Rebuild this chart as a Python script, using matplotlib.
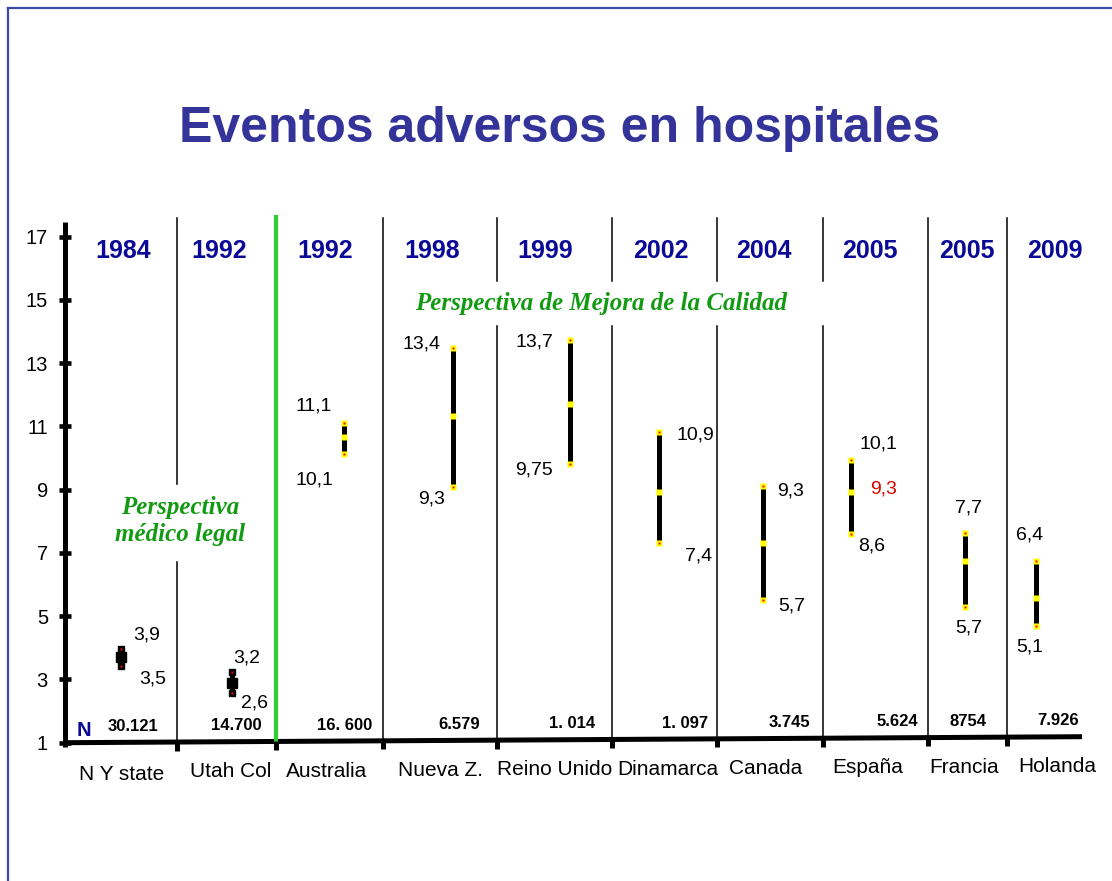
import matplotlib
matplotlib.use("Agg")
import matplotlib.pyplot as plt

plt.rcParams['font.family'] = ['Liberation Sans', 'DejaVu Sans']

# ---- data -------------------------------------------------------------
countries = ["N Y state", "Utah Col", "Australia", "Nueva Z.", "Reino Unido",
             "Dinamarca", "Canada", "España", "Francia", "Holanda"]
years = ["1984", "1992", "1992", "1998", "1999", "2002", "2004", "2005", "2005", "2009"]
n_sizes = ["30.121", "14.700", "16. 600", "6.579", "1. 014", "1. 097",
           "3.745", "5.624", "8754", "7.926"]

# interval ends and middle point, as drawn on the slide
low = [3.42, 2.57, 10.13, 9.09, 9.81, 7.31, 5.51, 7.60, 5.29, 4.69]
mid = [3.71, 2.89, 10.66, 11.33, 11.71, 8.93, 7.31, 8.93, 6.74, 5.57]
high = [3.96, 3.24, 11.11, 13.48, 13.73, 10.82, 9.12, 9.94, 7.63, 6.74]

# printed values next to each interval
hi_labels = ["3,9", "3,2", "11,1", "13,4", "13,7", "10,9", "9,3", "10,1", "7,7", "6,4"]
lo_labels = ["3,5", "2,6", "10,1", "9,3", "9,75", "7,4", "5,7", "8,6", "5,7", "5,1"]
spain_mid_label = "9,3"

# ---- layout (slide pixels) ---------------------------------------------
W, H = 1112, 881
X0, X1 = 65, 1082          # y axis / end of x axis
Y1_PX, PX_UNIT = 742.7, 31.63
YTOP = 17.62

x_pos = [121, 232, 344, 453, 570, 659, 763, 851, 965, 1036]
year_x = [123, 219, 325, 432, 545, 661, 764, 870, 967, 1055]
country_x = [122, 231, 327, 440, 555, 668, 766, 868, 964, 1057]
n_x = [133, 236, 345, 459, 572, 685, 789, 897, 968, 1058]
sep_x = [177, 276, 383, 497, 612, 717, 823, 928, 1007]
gap_seps = [497, 612, 717, 823]

hi_off = [(26, 14), (15, 14), (-30, 17), (-31, 4), (-36, -2), (36, -3),
          (28, -5), (27, 16), (4, 25), (-6, 26)]
lo_off = [(32, -13), (23, -10), (-30, -26), (-21, -12), (-36, -6), (40, -13),
          (29, -6), (21, -12), (4, -21), (-6, -21)]

BLUE = "#0a0a96"
TITLE_BLUE = "#333399"
GREEN_TXT = "#129a12"
GREEN_LINE = "#33cc33"


def axis_y(x):
    # the x axis on the slide is drawn slightly tilted
    return 1 + 0.19 * (x - X0) / (X1 - X0)


fig = plt.figure(figsize=(W / 100, H / 100), dpi=100)
ax = fig.add_axes([X0 / W, (H - Y1_PX) / H, (X1 - X0) / W,
                   (YTOP - 1) * PX_UNIT / H])
ax.set_xlim(X0, X1)
ax.set_ylim(1, YTOP)
for s in ax.spines.values():
    s.set_visible(False)
ax.set_xticks([])
ax.set_yticks(range(1, 18, 2))
ax.tick_params(axis='y', direction='inout', length=8.6, width=3.3, pad=8,
               labelsize=14.5, colors='black')

# slide frame
fig.add_artist(plt.Line2D([8 / W, 8 / W], [0, 1 - 8 / H], color="#3a4aa8", lw=1.6))
fig.add_artist(plt.Line2D([8 / W, 1], [1 - 8 / H, 1 - 8 / H], color="#3a4aa8", lw=1.6))

fig.text(560 / W, 1 - 129 / H, "Eventos adversos en hospitales", ha='center',
         va='center', fontsize=36, fontweight='bold', color=TITLE_BLUE)

# axes lines
ax.plot([X0, X0], [17.46, 0.86], color='black', lw=3.6, clip_on=False,
        solid_capstyle='butt')
ax.plot([X0, X1], [axis_y(X0), axis_y(X1)], color='black', lw=3.6,
        clip_on=False, solid_capstyle='butt')

# column separators
for sx in sep_x:
    yb = axis_y(sx)
    if sx == 276:
        ax.plot([sx, sx], [YTOP, yb], color=GREEN_LINE, lw=3, clip_on=False)
    elif sx == 177:
        ax.plot([sx, sx], [17.6, 9.18], color='black', lw=1.1, clip_on=False)
        ax.plot([sx, sx], [6.71, yb], color='black', lw=1.1, clip_on=False)
    elif sx in gap_seps:
        ax.plot([sx, sx], [17.6, 15.6], color='black', lw=1.1, clip_on=False)
        ax.plot([sx, sx], [14.17, yb], color='black', lw=1.1, clip_on=False)
    else:
        ax.plot([sx, sx], [17.6, yb], color='black', lw=1.1, clip_on=False)
    ax.plot([sx, sx], [yb, yb - 0.27], color='black', lw=3.6, clip_on=False,
            solid_capstyle='butt')

# intervals
for i, x in enumerate(x_pos):
    ax.vlines(x, low[i], high[i], color='black', lw=3.6)
    if i < 2:
        ax.plot([x, x], [low[i], high[i]], 's', ms=4.5, mfc='black', mec='black')
        ax.plot([x, x], [low[i], high[i]], 's', ms=1.8, mfc='red', mec='none')
        ax.plot(x, mid[i], 's', ms=7, mfc='black', mec='black')
    else:
        ax.plot([x, x], [low[i], high[i]], 's', ms=4.8, mfc='#ffff00', mec='none')
        ax.plot([x, x], [low[i], high[i]], 's', ms=1.8, mfc='red', mec='none')
        ax.plot(x, mid[i], 's', ms=4.8, mfc='#ffff00', mec='none')

    ax.annotate(hi_labels[i], (x, high[i]), xytext=hi_off[i],
                textcoords='offset pixels', ha='center', va='center', fontsize=14)
    ax.annotate(lo_labels[i], (x, low[i]), xytext=lo_off[i],
                textcoords='offset pixels', ha='center', va='center', fontsize=14)

ax.annotate(spain_mid_label, (x_pos[7], mid[7]), xytext=(33, 3),
            textcoords='offset pixels', ha='center', va='center', fontsize=14,
            color='#dd0000')

# years, sample sizes and countries
for i in range(len(countries)):
    ax.annotate(years[i], (year_x[i], YTOP), xytext=(0, -34),
                textcoords='offset pixels', ha='center', va='center',
                fontsize=18, fontweight='bold', color=BLUE, annotation_clip=False)
    ax.annotate(n_sizes[i], (n_x[i], axis_y(n_x[i])), xytext=(0, 16),
                textcoords='offset pixels', ha='center', va='center',
                fontsize=12, fontweight='bold', annotation_clip=False)
    ax.annotate(countries[i], (country_x[i], axis_y(country_x[i])),
                xytext=(0, -30 - (2 if i == 0 else 0)), textcoords='offset pixels',
                ha='center', va='center', fontsize=15, annotation_clip=False)

ax.annotate("N", (84, axis_y(84)), xytext=(0, 12), textcoords='offset pixels',
            ha='center', va='center', fontsize=14.5, fontweight='bold', color=BLUE)

ax.text(180, 8.0, "Perspectiva\nmédico legal", ha='center', va='center',
        fontsize=18, fontweight='bold', fontstyle='italic', color=GREEN_TXT,
        family='Liberation Serif', linespacing=1.2)
ax.text(601, 14.9, "Perspectiva de Mejora de la Calidad", ha='center',
        va='center', fontsize=18, fontweight='bold', fontstyle='italic',
        color=GREEN_TXT, family='Liberation Serif')

fig.savefig("out.png", dpi=100)
